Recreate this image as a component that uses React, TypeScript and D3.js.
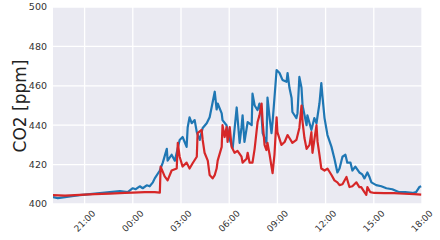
import React from "react";
import * as d3 from "d3";

// minutes since 19:00 (day 1)
const blueMinutes = [2,20,47,73,102,140,177,214,252,281,300,311,326,337,352,363,375,382,401,412,427,430,445,457,475,486,501,505,512,520,531,539,550,561,576,587,606,613,617,632,635,650,662,673,688,699,706,710,717,729,744,747,755,766,773,781,785,799,803,811,818,822,829,837,848,859,874,878,885,893,896,911,915,922,930,934,949,952,967,978,986,997,1004,1008,1016,1027,1042,1053,1064,1072,1083,1094,1101,1113,1120,1131,1146,1157,1165,1176,1183,1191,1209,1228,1247,1269,1295,1317,1344,1358,1370,1377];
const blueValues = [403.5,403,403.5,404,404.5,405,405.5,406,406.5,406,408,407.5,409,408,409.5,409,411,413,417,421,428,422,425,422,432.5,434,429,439,444,441,442.6,436.5,432.5,438.6,441,444,457,448,451,446,442.6,440,432.5,428.4,449,431,439,445,431.5,441.6,440,456,450,447.7,451,445,436,431,454,443.6,436,441.6,453.8,468,466.5,463,462,466.5,459,453.8,446.7,443.6,446,464.5,459,450,440,445,437.6,443.6,441,451,461.4,455,443.6,435,429,423,416,418,424,425,421,421,417,419,416,415,413,416,414,411,409.6,409,408,407.5,406,406,405.6,406,408.6,409];

const redMinutes = [2,47,102,158,214,270,300,345,382,401,404,419,430,445,464,468,475,486,501,512,524,539,542,557,561,568,580,587,598,606,613,617,632,635,643,650,654,662,669,680,691,706,710,725,729,736,747,755,766,773,781,785,792,799,803,811,818,822,829,837,840,855,867,878,885,896,911,922,930,934,941,949,960,967,971,986,990,997,1004,1016,1027,1042,1053,1064,1072,1083,1098,1109,1120,1135,1146,1153,1165,1172,1176,1187,1202,1239,1276,1314,1351,1377];
const redValues = [404.5,404.3,404.6,405,405.3,405.6,405.8,406,406,405.8,419,414,412,417,418,431,424,419,421,418,420.8,424,436,437.6,432.5,426,422,414.7,413,414.7,418,422,429,440,434,439,431.5,439,429,426,427,424,421,423,426,421,421,428,441.6,445,451,441.6,430,427.4,431,425,419,415.7,425,444,436.5,430,431.5,435,433.5,431,432.5,438.6,450,441.6,433.5,428,430,436.5,426,440,431.5,425,418,417,418,414.7,412,411,409.6,410,413.7,408.6,409,411,408.6,408.6,406,404.6,408.6,406,405.6,405.5,405.5,405.2,405,404.8];

const yTicks = [400, 420, 440, 460, 480, 500];
const xTickMinutes = [120, 300, 480, 660, 840, 1020, 1200, 1380];
const xTickLabels = ["21:00", "00:00", "03:00", "06:00", "09:00", "12:00", "15:00", "18:00"];

const W = 440, H = 240;
const left = 53, right = 422, top = 7, bottom = 204;

export default function App() {
  const x = d3.scaleLinear().domain([2, 1380]).range([left, right]);
  const y = d3.scaleLinear().domain([400, 500]).range([bottom, top]);
  const blue = blueMinutes.map((m, i) => [m, blueValues[i]] as [number, number]);
  const red = redMinutes.map((m, i) => [m, redValues[i]] as [number, number]);
  const line = d3.line<[number, number]>().x(d => x(d[0])).y(d => y(d[1]));
  const font = "DejaVu Sans, sans-serif";
  return (
    <svg width={W} height={H} style={{ position: "absolute", left: 0, top: 0, background: "#fff" }}>
      <rect x={left} y={top} width={right - left} height={bottom - top} fill="#EAEAF2" />
      {yTicks.map(t => (
        <line key={"gy" + t} x1={left} x2={right} y1={y(t)} y2={y(t)} stroke="#fff" strokeWidth={1.3} />
      ))}
      {xTickMinutes.map(t => (
        <line key={"gx" + t} x1={x(t)} x2={x(t)} y1={top} y2={bottom} stroke="#fff" strokeWidth={1.3} />
      ))}
      <defs>
        <clipPath id="clip"><rect x={left} y={top} width={right - left} height={bottom - top + 2} /></clipPath>
      </defs>
      <g clipPath="url(#clip)">
        <path d={line(blue) || ""} fill="none" stroke="#1f77b4" strokeWidth={2.2} strokeLinejoin="round" />
        <path d={line(red) || ""} fill="none" stroke="#d62728" strokeWidth={2.2} strokeLinejoin="round" />
      </g>
      {yTicks.map(t => (
        <text key={"ty" + t} x={47} y={y(t)} dy="0.35em" textAnchor="end" fontSize={9.5} fill="#333" fontFamily={font}>{t}</text>
      ))}
      {xTickMinutes.map((t, i) => (
        <text key={"tx" + t} transform={`translate(${x(t)},221) rotate(-45)`} textAnchor="middle" dy="0.35em" fontSize={9} fill="#333" fontFamily={font}>{xTickLabels[i]}</text>
      ))}
      <text transform={`translate(20,106) rotate(-90)`} textAnchor="middle" dy="0.35em" fontSize={17} fill="#222" fontFamily={font}>CO2 [ppm]</text>
    </svg>
  );
}
